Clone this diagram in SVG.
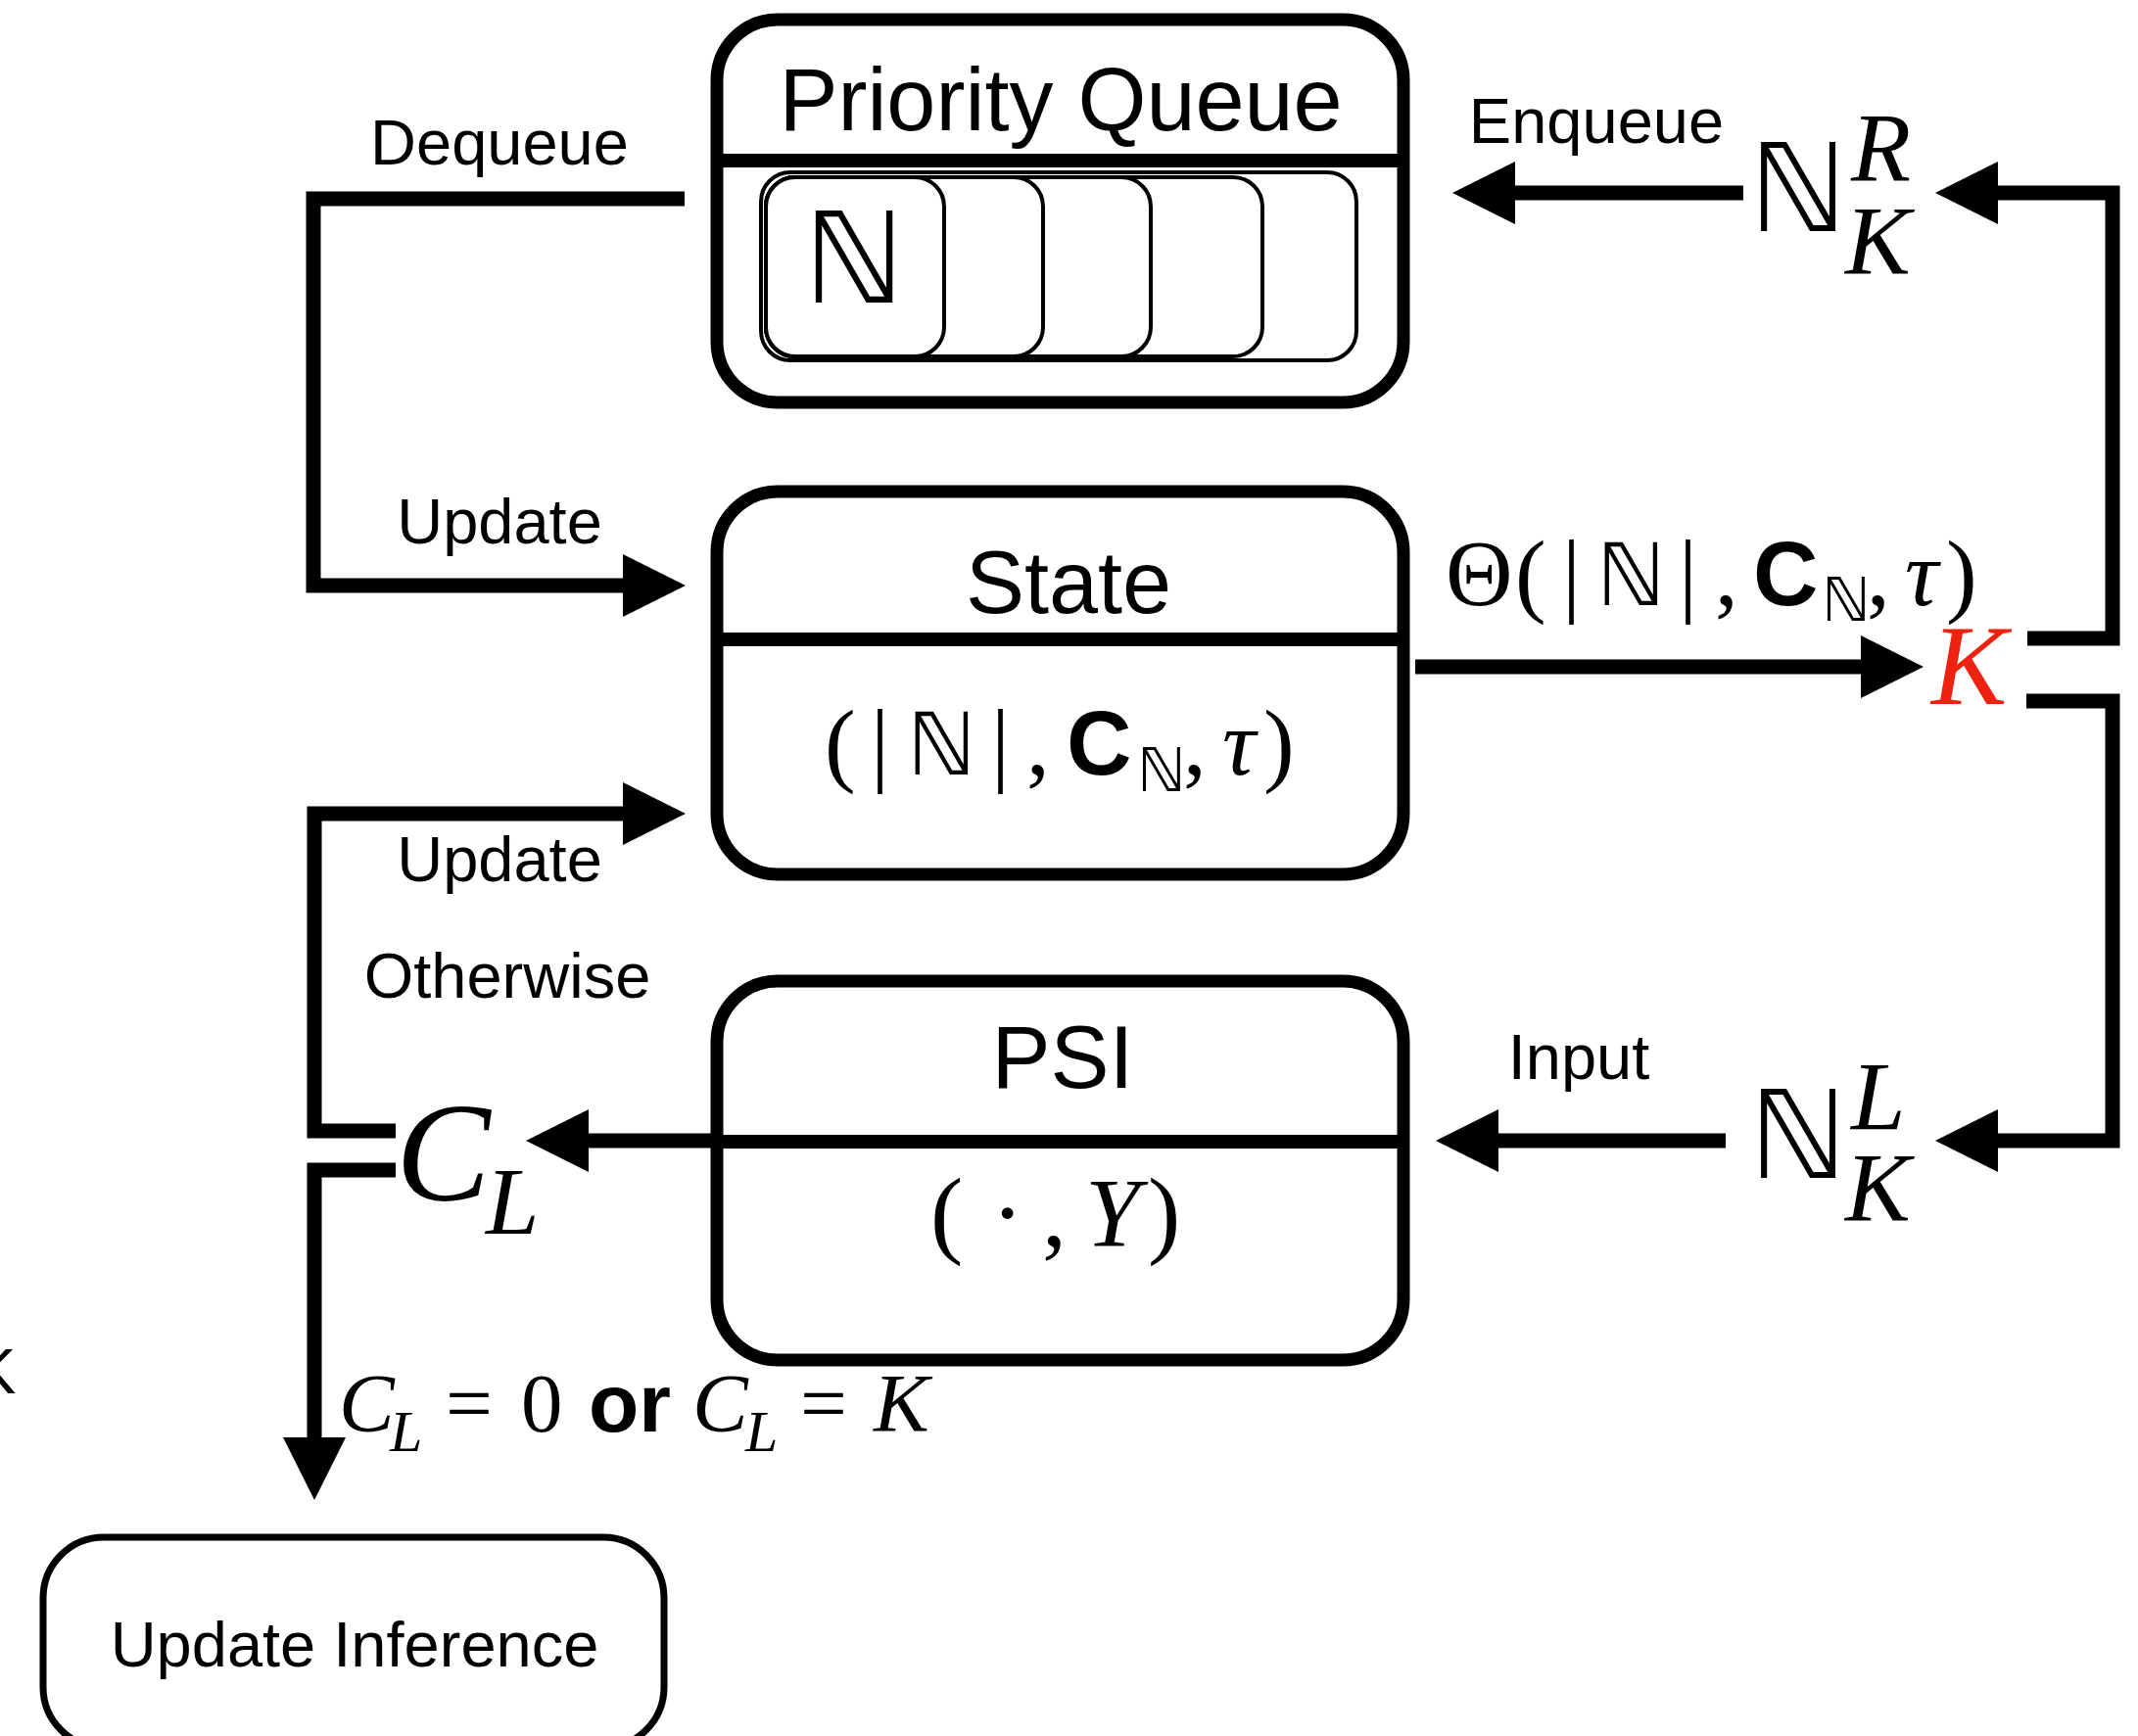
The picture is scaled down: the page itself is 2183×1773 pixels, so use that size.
<svg xmlns="http://www.w3.org/2000/svg" width="2183" height="1773" viewBox="0 0 2183 1773">
<defs>
<style>
.box{fill:#fff;stroke:#000;stroke-width:13}
.slot{fill:#fff;stroke:#000;stroke-width:4}
.conn{fill:none;stroke:#000;stroke-width:15;stroke-linejoin:miter;stroke-linecap:butt}
.lbl{font-family:"Liberation Sans",Arial,sans-serif;font-size:65px;fill:#000}
.title{font-family:"Liberation Sans",Arial,sans-serif;font-size:90px;text-anchor:middle;fill:#000}
.serif{font-family:"Liberation Serif","Times New Roman",serif}
.it{font-style:italic}
.bb{font-family:"DejaVu Sans",sans-serif}
.sansb{font-family:"Liberation Sans",Arial,sans-serif;font-weight:bold}
</style>
<marker id="ah" markerUnits="userSpaceOnUse" markerWidth="64" markerHeight="64" refX="0" refY="32" orient="auto" viewBox="0 0 64 64">
<path d="M0,0 L64,32 L0,64 Z" fill="#000"/>
</marker>
</defs>
<rect width="2183" height="1773" fill="#fff"/>

<g id="priority-queue">
<rect class="box" x="732" y="20" width="701" height="391" rx="62"/>
<line x1="732" y1="164" x2="1433" y2="164" stroke="#000" stroke-width="14"/>
<text class="title" x="1083" y="133">Priority Queue</text>
<rect class="slot" x="777" y="176" width="608" height="192" rx="30"/>
<rect class="slot" x="782" y="181" width="507" height="183" rx="30"/>
<rect class="slot" x="782" y="181" width="393" height="183" rx="30"/>
<rect class="slot" x="782" y="181" width="283" height="183" rx="30"/>
<rect class="slot" x="782" y="181" width="182" height="183" rx="30"/>
<text class="bb" x="872" y="309" font-size="129" text-anchor="middle">ℕ</text>
</g>

<g id="state">
<rect class="box" x="732" y="502" width="701" height="391" rx="62"/>
<line x1="732" y1="653" x2="1433" y2="653" stroke="#000" stroke-width="14"/>
<text class="title" x="1091" y="626">State</text>
<text y="791" font-size="95">
<tspan class="serif" x="842">(</tspan>
<tspan class="serif" x="889">|</tspan>
<tspan class="bb" x="926" font-size="88">ℕ</tspan>
<tspan class="serif" x="1012">|</tspan>
<tspan class="serif" x="1048">,</tspan>
<tspan class="sansb" x="1089" font-size="92">C</tspan>
<tspan class="bb" x="1161" y="808" font-size="62">ℕ</tspan>
<tspan class="serif" x="1208" y="791">,</tspan>
<tspan class="serif it" x="1248">τ</tspan>
<tspan class="serif" x="1290">)</tspan>
</text>
</g>

<g id="psi">
<rect class="box" x="732" y="1002" width="701" height="387" rx="62"/>
<line x1="732" y1="1166" x2="1433" y2="1166" stroke="#000" stroke-width="14"/>
<text class="title" x="1085" y="1111">PSI</text>
<text y="1272" font-size="100">
<tspan class="serif" x="950">(</tspan>
<tspan class="serif" x="1012">·</tspan>
<tspan class="serif" x="1064">,</tspan>
<tspan class="serif it" x="1108">Y</tspan>
<tspan class="serif" x="1172">)</tspan>
</text>
</g>

<g id="update-inference">
<rect x="44" y="1570" width="634" height="215" rx="62" fill="#fff" stroke="#000" stroke-width="7"/>
<text class="lbl" x="362" y="1702" font-size="66" text-anchor="middle">Update Inference</text>
</g>

<g id="connectors">
<path class="conn" d="M699,203 H320 V598 H636" marker-end="url(#ah)"/>
<path class="conn" d="M404,1155 H321 V831 H636" marker-end="url(#ah)"/>
<path class="conn" d="M404,1195 H321 V1468" marker-end="url(#ah)"/>
<path class="conn" d="M727,1165 H601" marker-end="url(#ah)"/>
<path class="conn" d="M1445,681 H1900" marker-end="url(#ah)"/>
<path class="conn" d="M2070,652 H2157 V197 H2040" marker-end="url(#ah)"/>
<path class="conn" d="M1780,197 H1547" marker-end="url(#ah)"/>
<path class="conn" d="M2069,716 H2157 V1165 H2040" marker-end="url(#ah)"/>
<path class="conn" d="M1762,1165 H1530" marker-end="url(#ah)"/>
</g>

<g id="labels">
<text class="lbl" x="510" y="168" text-anchor="middle">Dequeue</text>
<text class="lbl" x="510" y="555" text-anchor="middle">Update</text>
<text class="lbl" x="510" y="900" text-anchor="middle">Update</text>
<text class="lbl" x="518" y="1019" text-anchor="middle">Otherwise</text>
<text class="lbl" x="1630" y="146" text-anchor="middle">Enqueue</text>
<text class="lbl" x="1612" y="1102" text-anchor="middle">Input</text>
<text class="lbl" x="-27" y="1423" font-size="78">K</text>

<text y="618" font-size="95">
<tspan class="serif" x="1476">Θ</tspan>
<tspan class="serif" x="1547">(</tspan>
<tspan class="serif" x="1595">|</tspan>
<tspan class="bb" x="1630" font-size="88">ℕ</tspan>
<tspan class="serif" x="1714">|</tspan>
<tspan class="serif" x="1751">,</tspan>
<tspan class="sansb" x="1790" font-size="92">C</tspan>
<tspan class="bb" x="1860" y="634" font-size="62">ℕ</tspan>
<tspan class="serif" x="1906" y="618">,</tspan>
<tspan class="serif it" x="1945">τ</tspan>
<tspan class="serif" x="1987">)</tspan>
</text>

<text class="serif it" x="1972" y="719" font-size="116" fill="#ee2211">K</text>

<text class="bb" x="1786" y="236" font-size="125">ℕ</text>
<text class="serif it" x="1890" y="184" font-size="100">R</text>
<text class="serif it" x="1884" y="279" font-size="100">K</text>

<text class="bb" x="1786" y="1203" font-size="125">ℕ</text>
<text class="serif it" x="1890" y="1153" font-size="100">L</text>
<text class="serif it" x="1884" y="1246" font-size="100">K</text>

<text class="serif it" x="404" y="1226" font-size="145">C</text>
<text class="serif it" x="496" y="1260" font-size="98">L</text>

<text y="1462" font-size="85">
<tspan class="serif it" x="346">C</tspan>
<tspan class="serif it" x="398" y="1482" font-size="60">L</tspan>
<tspan class="serif" x="455" y="1462">=</tspan>
<tspan class="serif" x="532">0</tspan>
<tspan class="sansb" x="601" font-size="84">or</tspan>
<tspan class="serif it" x="707">C</tspan>
<tspan class="serif it" x="761" y="1482" font-size="60">L</tspan>
<tspan class="serif" x="817" y="1462">=</tspan>
<tspan class="serif it" x="892">K</tspan>
</text>
</g>
</svg>
